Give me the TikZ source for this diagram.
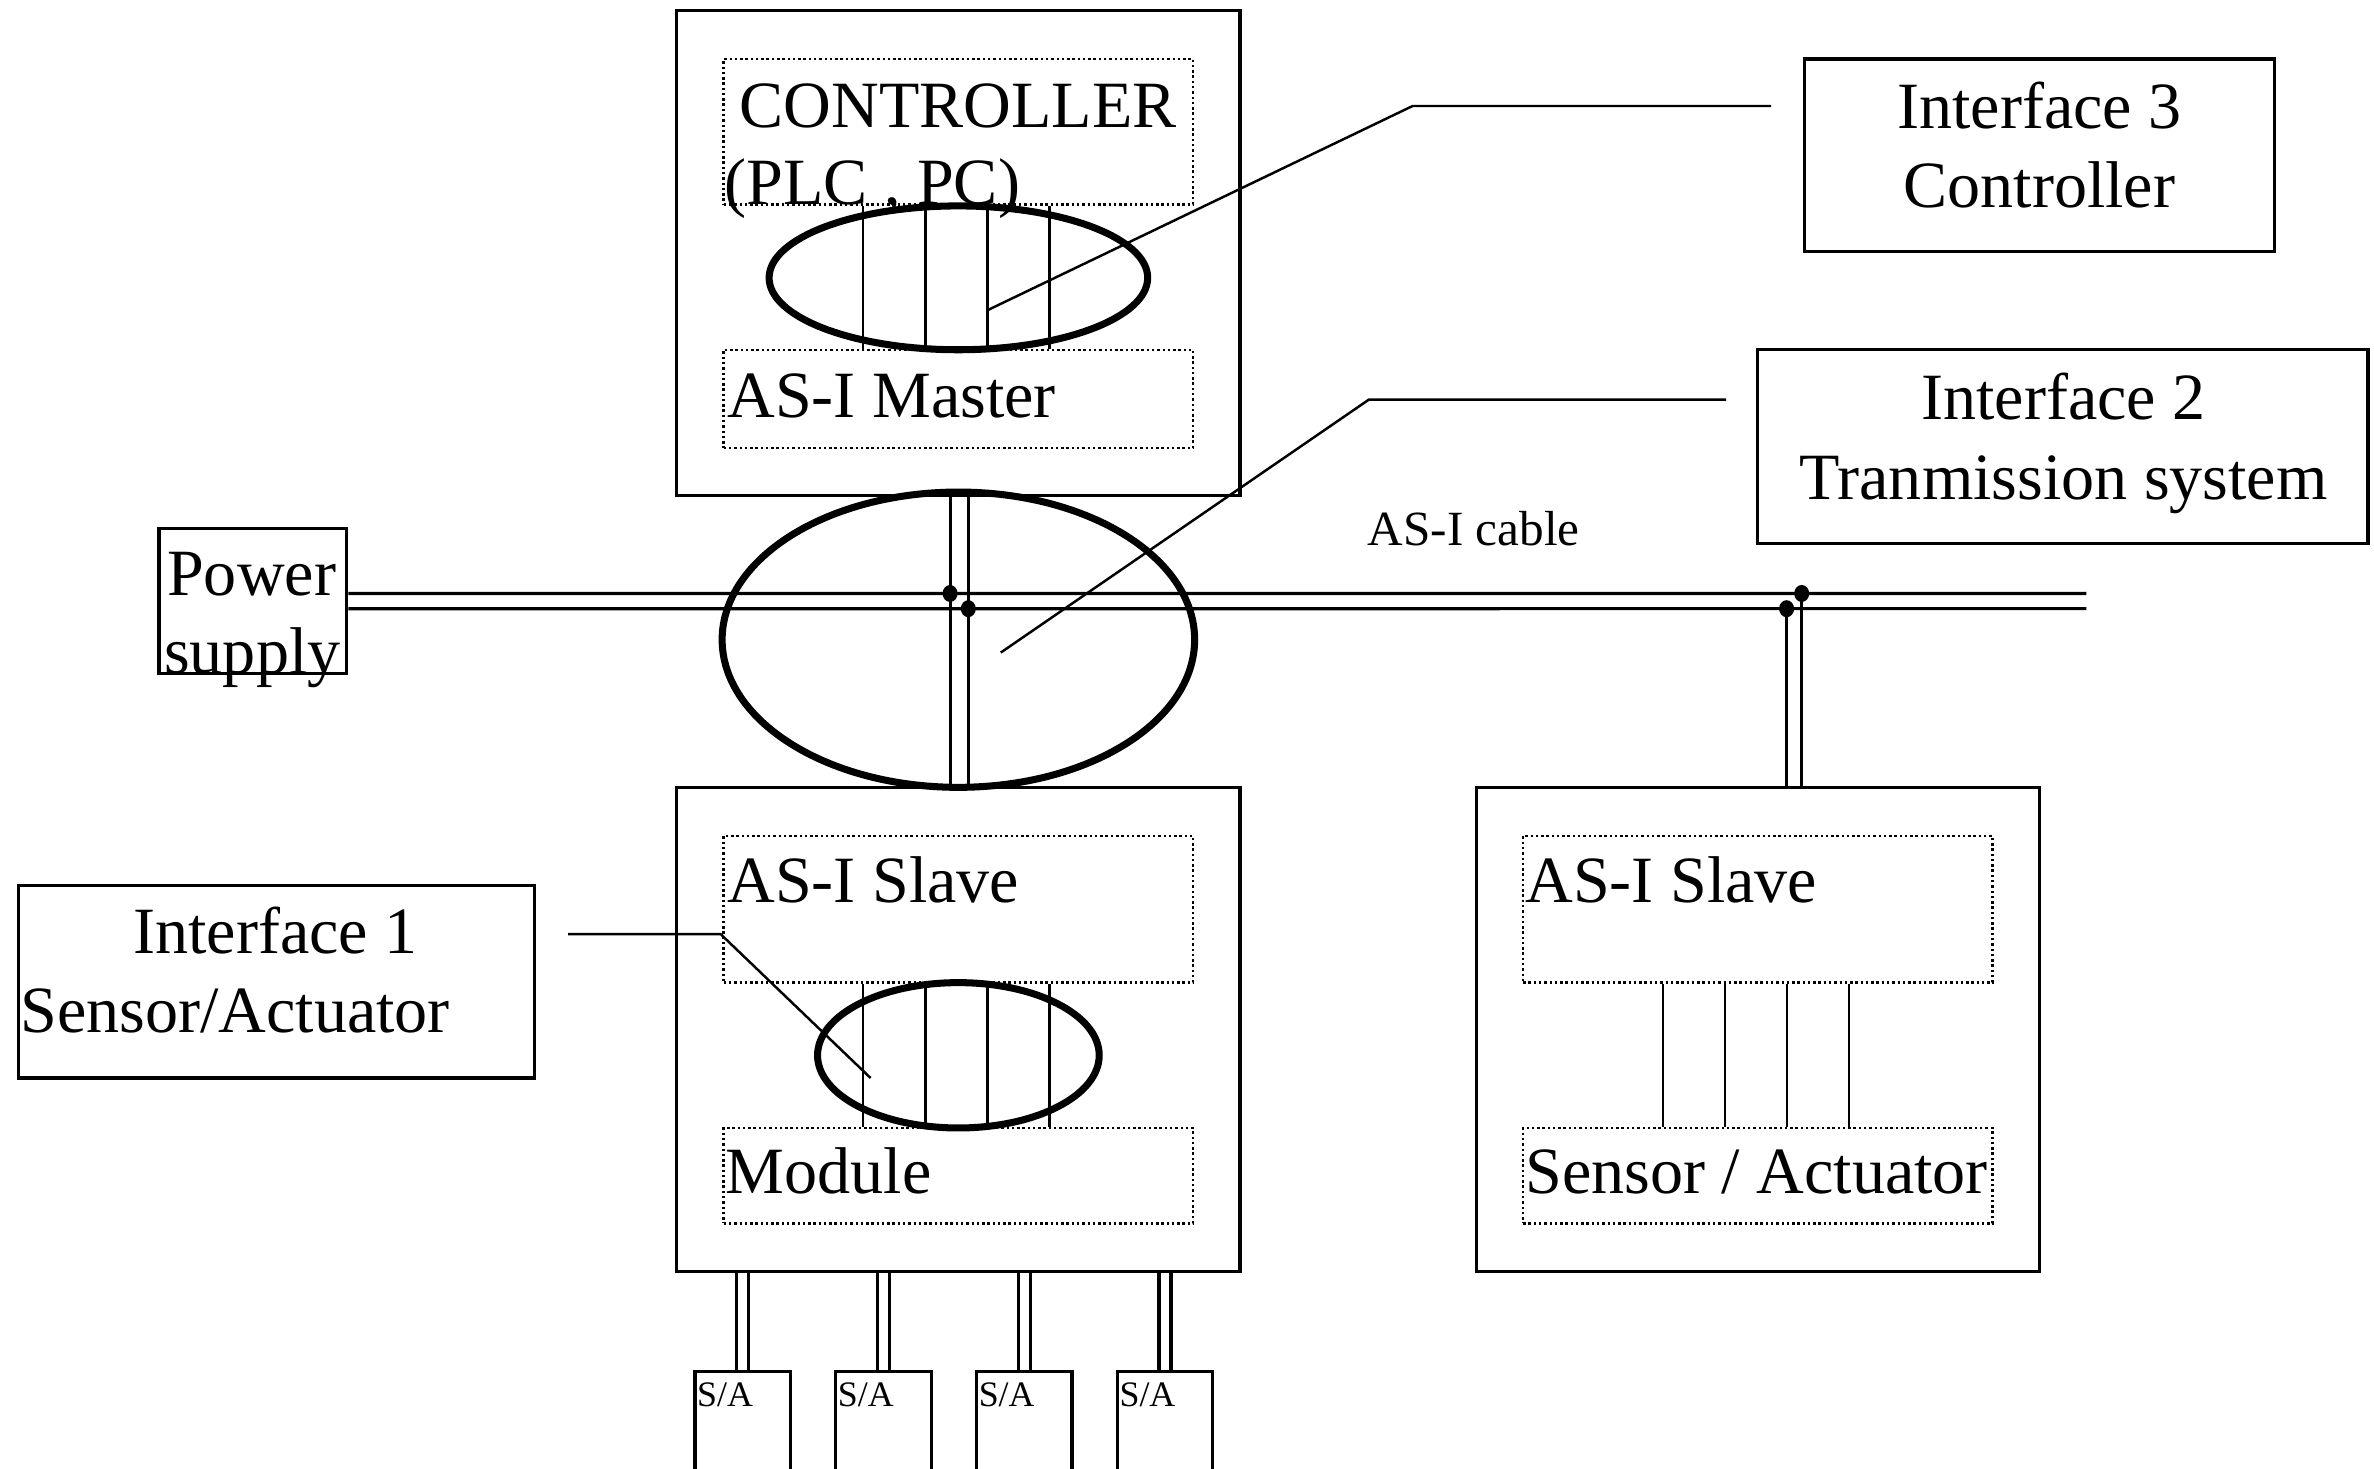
\documentclass[tikz,border=0pt]{standalone}
\usepackage{fontspec}
\setmainfont{Liberation Serif}
\usetikzlibrary{shapes.geometric,fit,calc}

\begin{document}
\begin{tikzpicture}[x=0.01514cm, y=-0.01514cm,
  frame/.style={draw, line width=0.9pt, inner sep=0pt},
  dotbox/.style={draw, line width=0.7pt, dash pattern=on 0.7pt off 0.8pt, inner sep=0pt},
  lens/.style={draw, ellipse, line width=2pt, inner sep=0pt},
  wire/.style={line width=0.65pt},
  lead/.style={line width=0.7pt},
  cable/.style={line width=0.9pt},
  junction/.style={ellipse, fill, inner sep=0pt, minimum width=0.15cm, minimum height=0.17cm},
  lbl/.style={inner sep=0pt, font=\fontsize{18.8}{22}\selectfont},
  cablelbl/.style={inner sep=0pt, font=\fontsize{14}{16}\selectfont},
  salbl/.style={inner sep=0pt, font=\fontsize{10.2}{12}\selectfont}]

\useasboundingbox (0,0) rectangle (1568,970);
\clip (0,0) rectangle (1568,970);

% ---------- controller station ----------
\node[frame, fit={(447,7) (819,327)}] (master) {};
\node[dotbox, fit={(478,39) (788,135)}] (ctl) {};
\node[dotbox, fit={(478,231) (788,296)}] (mst) {};
\node[lbl, anchor=base west] (ctltxt) at (488,84) {CONTROLLER};
\node[lbl, anchor=base west] (plctxt) at (478,135) {(PLC , PC)};
\node[lbl, anchor=base west] (msttxt) at (480,276) {AS-I Master};
\foreach \dx in {1.408,2.029,2.650,3.270}
  \draw[wire] ([xshift=\dx cm]ctl.south west) -- ([xshift=\dx cm]mst.north west);
\node[lens, minimum width=3.785cm, minimum height=1.438cm] (lens3) at (633,183.5) {};

% ---------- slave station with module ----------
\node[frame, fit={(447,520) (819,840)}] (slave) {};
\node[dotbox, fit={(478,552) (788,649)}] (sl) {};
\node[dotbox, fit={(478,745) (788,808)}] (mod) {};
\node[lbl, anchor=base west] (sltxt) at (480,596) {AS-I Slave};
\node[lbl, anchor=base west] (modtxt) at (479,788) {Module};
\foreach \dx in {1.408,2.029,2.650,3.270}
  \draw[wire] ([xshift=\dx cm]sl.south west) -- ([xshift=\dx cm]mod.north west);
\node[lens, minimum width=2.816cm, minimum height=1.453cm] (lens1) at (633,697) {};

% ---------- slave station with sensor / actuator ----------
\node[frame, fit={(975,520) (1347,840)}] (slave2) {};
\node[dotbox, fit={(1006,552) (1316,649)}] (sl2) {};
\node[dotbox, fit={(1006,745) (1316,808)}] (sens) {};
\node[lbl, anchor=base west] (sl2txt) at (1007,596) {AS-I Slave};
\node[lbl, anchor=base west] (senstxt) at (1007,788) {Sensor / Actuator};
\foreach \dx in {1.408,2.029,2.650,3.270}
  \draw[wire] ([xshift=\dx cm]sl2.south west) -- ([xshift=\dx cm]sens.north west);

% ---------- power supply and AS-I cable ----------
\node[frame, fit={(105,349) (229,445)}] (psu) {};
\node[lbl, anchor=base west] (pwtxt) at (110,393) {Power};
\node[lbl, anchor=base west] (sptxt) at (108,445) {supply};
\coordinate (cU) at ([yshift=0.076cm]psu.east);
\coordinate (cL) at ([yshift=-0.076cm]psu.east);
\coordinate (endU) at (1378,392);
\coordinate (endL) at (1378,402);
\draw[cable] (cU) -- (endU);
\draw[cable] (cL) -- (endL);
\node[cablelbl, anchor=base west] (cabletxt) at (903,360) {AS-I cable};

% drop from master to first slave
\coordinate (dL) at ([xshift=-0.083cm]master.south);
\coordinate (dR) at ([xshift=0.099cm]master.south);
\draw[cable] (dL) -- (dL |- slave.north);
\draw[cable] (dR) -- (dR |- slave.north);
\node[junction] (j1) at (dL |- cU) {};
\node[junction] (j2) at (dR |- cL) {};
\node[lens, minimum width=4.724cm, minimum height=2.952cm] (lens2) at (633,422.5) {};

% drop to second slave
\coordinate (rL) at ([xshift=0.288cm]slave2.north);
\coordinate (rR) at ([xshift=0.439cm]slave2.north);
\draw[cable] (rL |- cL) -- (rL);
\draw[cable] (rR |- cU) -- (rR);
\node[junction] (j3) at (rL |- cL) {};
\node[junction] (j4) at (rR |- cU) {};

% ---------- sensors / actuators below the module ----------
\foreach \x/\n in {459/1,552/2,645/3,738/4} {
  \node[frame, fit={(\x,906) ({\x+63},976)}] (sa\n) {};
  \node[salbl, anchor=base west] (satxt\n) at ({\x+1},929) {S/A};
  \coordinate (pl\n) at ([xshift=-0.06cm]sa\n.north);
  \coordinate (pr\n) at ([xshift=0.06cm]sa\n.north);
  \draw[cable] (pl\n) -- (pl\n |- slave.south);
  \draw[cable] (pr\n) -- (pr\n |- slave.south);
}

% ---------- interface call-outs ----------
\node[frame, fit={(1192,39) (1502,166)}] (if3) {};
\node[lbl, anchor=base] (if3a) at (1347,85) {Interface 3};
\node[lbl, anchor=base] (if3b) at (1347,137) {Controller};
\coordinate (k3) at (933,70);
\coordinate (p3) at (652,205);
\draw[lead, shorten <=0.32cm] (if3.west |- k3) -- (k3) -- (p3);

\node[frame, fit={(1161,231) (1564,359)}] (if2) {};
\node[lbl, anchor=base] (if2a) at (1363,277) {Interface 2};
\node[lbl, anchor=base] (if2b) at (1363,330) {Tranmission system};
\coordinate (k2) at (904,264);
\coordinate (p2) at (661,431);
\draw[lead, shorten <=0.30cm] (if2.west |- k2) -- (k2) -- (p2);

\node[frame, fit={(12,585) (353,712)}] (if1) {};
\node[lbl, anchor=base] (if1a) at (182,630) {Interface 1};
\node[lbl, anchor=base west] (if1b) at (13,682) {Sensor/Actuator};
\coordinate (k1) at (476,617);
\coordinate (p1) at (575,712);
\draw[lead, shorten <=0.32cm] (if1.east |- k1) -- (k1) -- (p1);

\end{tikzpicture}
\end{document}
